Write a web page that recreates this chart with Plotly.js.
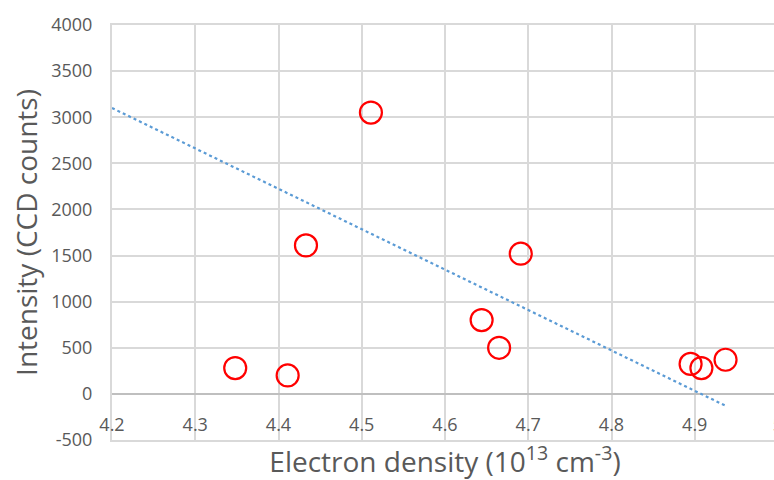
<!DOCTYPE html>
<html>
<head>
<meta charset="utf-8">
<script src="https://cdn.plot.ly/plotly-3.0.1.min.js"></script>
<style>
html, body { margin: 0; padding: 0; overflow: hidden; background: #fff; }
#chart { width: 784px; height: 480px; }
</style>
</head>
<body>
<div id="chart"></div>
<script>
// Data
const electronDensity = [4.348, 4.411, 4.433, 4.511, 4.644, 4.665, 4.691, 4.895, 4.908, 4.937];
const intensity       = [280,   200,   1610,  3050,  800,   500,   1520,  325,   280,   370];
// Dotted trend line end points as drawn in the reference
const trendX = [4.2, 4.937];
const trendY = [3100, -129];
const xTicks = [4.2, 4.3, 4.4, 4.5, 4.6, 4.7, 4.8, 4.9, 5];
const xTickText = ['4.2', '4.3', '4.4', '4.5', '4.6', '4.7', '4.8', '4.9', '5'];
const yTicks = [-500, 0, 500, 1000, 1500, 2000, 2500, 3000, 3500, 4000];
const yTickText = ['-500', '0', '500', '1000', '1500', '2000', '2500', '3000', '3500', '4000'];

const fontFam = '"Open Sans", "Liberation Sans", sans-serif';
const grey = '#595959';
const grid = '#d9d9d9';

const traces = [
  {
    x: trendX, y: trendY, type: 'scatter', mode: 'lines',
    line: { color: '#5b9bd5', width: 2.2, dash: 'dot' },
    hoverinfo: 'skip', showlegend: false
  },
  {
    x: electronDensity, y: intensity, type: 'scatter', mode: 'markers',
    marker: { symbol: 'circle-open', size: 22, color: '#ff0000', line: { width: 2.2, color: '#ff0000' } },
    showlegend: false
  },
  {
    x: [xTicks[0]], y: [0], xaxis: 'x2', type: 'scatter', mode: 'markers',
    marker: { opacity: 0 }, hoverinfo: 'skip', showlegend: false
  }
];

const layout = {
  width: 784, height: 480,
  margin: { l: 112, r: 6, t: 25, b: 40 },
  paper_bgcolor: '#ffffff', plot_bgcolor: '#ffffff',
  font: { family: fontFam, color: grey, size: 18 },
  showlegend: false,
  xaxis: {
    range: [4.2, 5], tickvals: xTicks, showticklabels: false,
    showgrid: true, gridcolor: grid, gridwidth: 2,
    showline: true, linecolor: grid, linewidth: 2, mirror: true,
    zeroline: false, ticks: '',
    title: { text: 'Electron density (10<sup>13</sup> cm<sup>-3</sup>)', font: { size: 28, color: grey, family: fontFam }, standoff: 11 }
  },
  xaxis2: {
    range: [4.2, 5], tickvals: xTicks, ticktext: xTickText,
    overlaying: 'x', anchor: 'free', position: 500 / 4500,
    showgrid: false, showline: false, zeroline: false,
    ticks: 'outside', ticklen: 15, tickcolor: 'rgba(0,0,0,0)',
    tickfont: { size: 18, color: grey, family: fontFam }
  },
  yaxis: {
    range: [-500, 4000], tickvals: yTicks, ticktext: yTickText,
    showgrid: true, gridcolor: grid, gridwidth: 2,
    showline: true, linecolor: grid, linewidth: 2, mirror: true,
    zeroline: true, zerolinecolor: '#bfbfbf', zerolinewidth: 2,
    ticks: 'outside', ticklen: 14, tickcolor: 'rgba(0,0,0,0)',
    tickfont: { size: 18, color: grey, family: fontFam },
    title: { text: 'Intensity (CCD counts)', font: { size: 28, color: grey, family: fontFam }, standoff: 5 }
  }
};

Plotly.newPlot('chart', traces, layout, { displayModeBar: false, staticPlot: true });
</script>
</body>
</html>
